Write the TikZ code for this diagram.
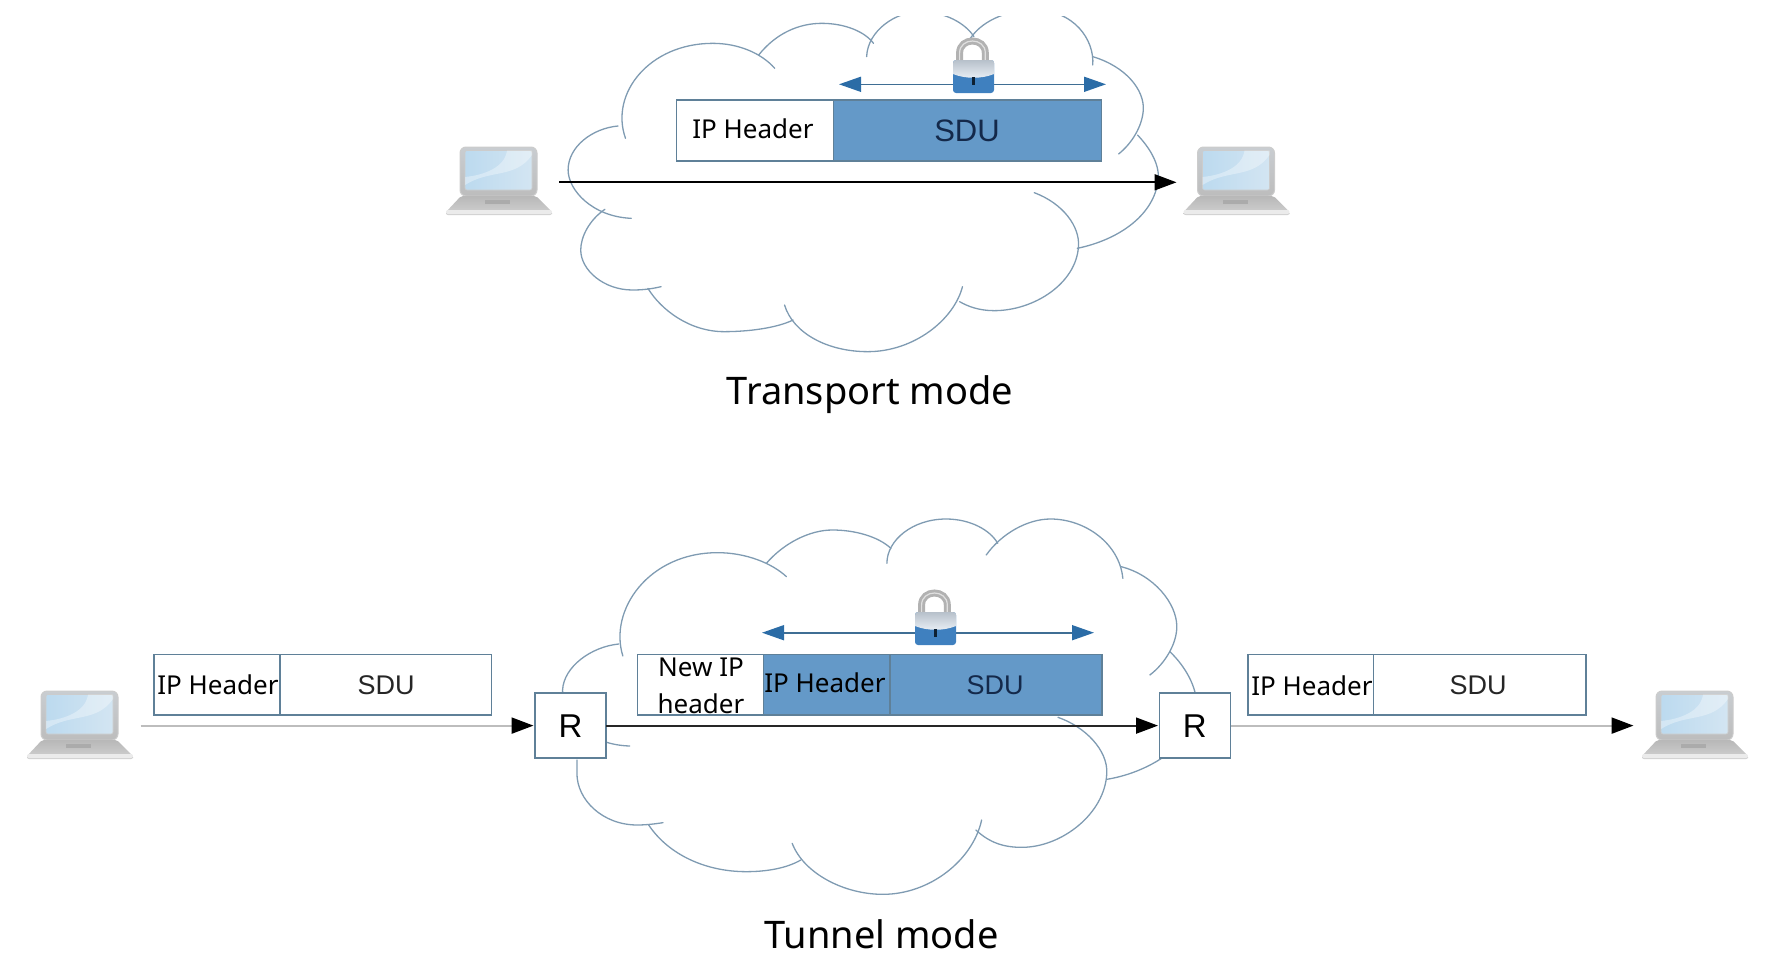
\documentclass[tikz,border=0pt]{standalone}
\usepackage{fontspec}
\setmainfont{Noto Sans}
\newfontfamily\arialfont{Liberation Sans}
\usetikzlibrary{arrows.meta}
\definecolor{cloudcol}{HTML}{7F9BB2}
\definecolor{boxcol}{HTML}{5F8098}
\definecolor{sdublue}{HTML}{6499C8}
\definecolor{sdutext}{HTML}{14294A}
\definecolor{arrowblue}{HTML}{2B6CA6}
\definecolor{shaftblue}{HTML}{3F6E94}
\definecolor{greyline}{HTML}{BDBDBD}
\definecolor{lapframe}{HTML}{C9CDD1}
\definecolor{lapscra}{HTML}{BCDAEF}
\definecolor{lapscrb}{HTML}{D3E5F2}
\definecolor{lockblue}{HTML}{3F80BF}
\definecolor{locklight}{HTML}{D7E2EE}
\tikzset{
  cloudline/.style={draw=cloudcol,line width=1.3pt,line cap=round},
  cell/.style={draw=boxcol,line width=1.4pt,fill=white,inner sep=0pt,outer sep=0pt},
  bluecell/.style={cell,fill=sdublue},
  hdr/.style={font=\fontsize{26}{26}\selectfont,anchor=base,text=black,inner sep=0pt},
  sdutxt/.style={font=\arialfont\fontsize{27}{27}\selectfont,anchor=base,inner sep=0pt,text=black!85},
  bigsdu/.style={font=\arialfont\fontsize{31}{31}\selectfont,anchor=base,inner sep=0pt,text=sdutext},
  title/.style={font=\fontsize{38}{38}\selectfont,anchor=base,inner sep=0pt},
  rbox/.style={draw=boxcol,line width=1.4pt,fill=white,minimum width=71pt,minimum height=65pt,inner sep=0pt,outer sep=0pt},
  rtext/.style={font=\arialfont\fontsize{33}{33}\selectfont,anchor=base,inner sep=0pt},
  flow/.style={line width=1.8pt,shorten >=1.5pt,-{Triangle[length=22pt,width=16pt,black]}},
  encl/.style={draw=shaftblue,line width=1.6pt,{Triangle[length=22pt,width=15pt,arrowblue]}-{Triangle[length=22pt,width=15pt,arrowblue]}},
  laptop/.pic={
    \shade[rounded corners=6pt,top color=lapframe,bottom color=black!26,draw=black!20,line width=1pt] (0,0) rectangle (77,49);
    \shade[rounded corners=2pt,left color=lapscra,right color=lapscrb,draw=black!20,line width=.6pt] (5,3.5) rectangle (72,43);
    \fill[white,opacity=.35] (5,38) .. controls (30,22) and (55,32) .. (72,8) -- (72,3.5) -- (47,3.5) .. controls (45,20) and (25,28) .. (5,30) -- cycle;
    \shade[top color=black!28,bottom color=black!18,rounded corners=2pt] (1,49) -- (76,49) -- (92,65) -- (92,68) -- (-14,68) -- (-14,65) -- cycle;
    \fill[black!8,rounded corners=2pt] (-14,63) rectangle (92,67);
    \fill[black!33] (25,53) rectangle (50,57);
  },
  padlock/.pic={
    \draw[black!30,line width=7pt] (5.6,26) -- (5.6,16) .. controls (5.6,0) and (31.3,0) .. (31.3,16) -- (31.3,26);
    \draw[white,line width=1.2pt,opacity=.6] (5.6,26) -- (5.6,16) .. controls (5.6,0) and (31.3,0) .. (31.3,16) -- (31.3,26);
    \fill[rounded corners=3pt,lockblue] (-1,23) rectangle (40,56);
    \shade[top color=locklight!85!black,bottom color=locklight!50!white] (-1,26) .. controls (-1,24) and (0,23) .. (2,23) -- (37,23) .. controls (39,23) and (40,24) .. (40,26) -- (40,37) .. controls (28,42) and (11,42) .. (-1,37) -- cycle;
    \fill[black!70!arrowblue] (17.5,40) rectangle (20.5,48);
  }
}
\begin{document}
\begin{tikzpicture}[x=1pt,y=-1pt]
\useasboundingbox (0,0) rectangle (1783,956);

% ---------- Transport mode cloud
\begin{scope}
\clip (0,16) rectangle (1783,500);
\begin{scope}[shift={(420,0)},x=0.57405pt,y=0.33333pt,yscale=-1,every path/.style={cloudline}]
\draw (358,415) .. controls (330,280) and (400,130) .. (510,130) .. controls (555,130) and (595,160) .. (618,205);
\draw (590,165) .. controls (620,100) and (660,70) .. (700,70) .. controls (740,70) and (775,95) .. (790,130);
\draw (778,170) .. controls (780,90) and (830,35) .. (870,35) .. controls (915,35) and (950,70) .. (965,110);
\draw (955,125) .. controls (975,65) and (1020,30) .. (1070,30) .. controls (1140,30) and (1175,120) .. (1172,195);
\draw (1172,170) .. controls (1230,200) and (1262,270) .. (1260,330) .. controls (1258,380) and (1240,430) .. (1217,462);
\draw (1250,405) .. controls (1280,460) and (1290,510) .. (1285,550) .. controls (1275,650) and (1215,720) .. (1145,745);
\draw (1070,578) .. controls (1120,610) and (1150,680) .. (1147,740) .. controls (1143,850) and (1070,932) .. (1000,932) .. controls (975,932) and (955,920) .. (940,905);
\draw (945,860) .. controls (930,960) and (860,1055) .. (780,1055) .. controls (710,1055) and (650,1000) .. (635,915);
\draw (650,960) .. controls (620,985) and (570,995) .. (530,995) .. controls (470,995) and (420,930) .. (397,865);
\draw (420,860) .. controls (400,868) and (385,870) .. (370,870) .. controls (320,870) and (280,810) .. (280,750) .. controls (280,710) and (295,660) .. (322,628);
\draw (368,655) .. controls (300,650) and (258,570) .. (258,510) .. controls (258,440) and (300,385) .. (345,378);
\end{scope}
\end{scope}

% ---------- Tunnel mode cloud
\begin{scope}[shift={(0,500)},x=0.57405pt,y=0.33333pt,yscale=-1,every path/.style={cloudline}]
\draw (1085,468) .. controls (1060,330) and (1130,158) .. (1250,158) .. controls (1300,158) and (1345,190) .. (1370,230);
\draw (1335,190) .. controls (1365,130) and (1410,90) .. (1450,90) .. controls (1490,90) and (1530,110) .. (1552,145);
\draw (1545,190) .. controls (1545,120) and (1590,57) .. (1648,57) .. controls (1690,57) and (1725,90) .. (1738,130);
\draw (1718,165) .. controls (1745,100) and (1790,57) .. (1830,57) .. controls (1890,57) and (1950,130) .. (1956,235);
\draw (1953,200) .. controls (2010,225) and (2050,310) .. (2050,380) .. controls (2050,430) and (2030,490) .. (2003,525);
\draw (2038,455) .. controls (2065,500) and (2085,560) .. (2085,620) .. controls (2085,720) and (2010,815) .. (1928,838);
\draw (1843,652) .. controls (1890,680) and (1930,750) .. (1928,820) .. controls (1925,940) and (1850,1042) .. (1780,1042) .. controls (1750,1042) and (1725,1030) .. (1700,990);
\draw (1710,960) .. controls (1695,1080) and (1620,1183) .. (1538,1183) .. controls (1470,1183) and (1400,1120) .. (1380,1030);
\draw (1395,1080) .. controls (1370,1105) and (1335,1115) .. (1300,1115) .. controls (1230,1115) and (1165,1065) .. (1130,975);
\draw (1155,968) .. controls (1140,972) and (1125,975) .. (1110,975) .. controls (1050,975) and (1005,900) .. (1005,820) .. controls (1005,805) and (1005,795) .. (1005,780);
\draw (1097,738) .. controls (1030,735) and (978,660) .. (980,570) .. controls (982,500) and (1030,440) .. (1078,432);
\end{scope}

% ---------- Laptops
\pic at (460,147) {laptop};
\pic at (1197.5,147) {laptop};
\pic at (41,691) {laptop};
\pic at (1656,691) {laptop};

% ---------- Transport mode packet
\node[cell,minimum width=156.7pt,minimum height=61pt] (thdr) at (755,130.5) {};
\node[bluecell,minimum width=268pt,minimum height=61pt] (tsdu) at (967.4,130.5) {};
\node[hdr] (thdrt) at (753,138.5) {IP Header};
\node[bigsdu] (tsdut) at (967,141) {SDU};
\coordinate (tenca) at (839,84.3);
\coordinate (tencb) at (1106,84.3);
\draw[encl] (tenca) -- (tencb);
\pic at (954,37) {padlock};
\coordinate (tsrc) at (559,182.3);
\coordinate (tdst) at (1178,182.3);
\draw[flow] (tsrc) -- (tdst);
\node[title] (ttitle) at (870,404) {Transport mode};

% ---------- Tunnel mode packets
\node[cell,minimum width=126.3pt,minimum height=60.7pt] (lhdr) at (217,684.6) {};
\node[cell,minimum width=211.3pt,minimum height=60.7pt] (lsdu) at (385.7,684.6) {};
\node[hdr] (lhdrt) at (218,694) {IP Header};
\node[sdutxt] (lsdut) at (386,694) {SDU};

\node[cell,minimum width=125.7pt,minimum height=60.7pt] (mnew) at (700.6,684.6) {};
\node[bluecell,minimum width=126.3pt,minimum height=60.7pt] (mhdr) at (826.6,684.6) {};
\node[bluecell,minimum width=212pt,minimum height=60.7pt] (msdu) at (995.8,684.6) {};
\node[hdr] (mnewa) at (701,676.7) {New IP};
\node[hdr] (mnewb) at (701,713) {header};
\node[hdr] (mhdrt) at (825,692) {IP Header};
\node[sdutxt,text=sdutext] (msdut) at (995,694) {SDU};

\node[cell,minimum width=125.2pt,minimum height=60.7pt] (rhdr) at (1310.6,684.6) {};
\node[cell,minimum width=212.8pt,minimum height=60.7pt] (rsdu) at (1479.6,684.6) {};
\node[hdr] (rhdrt) at (1312,695) {IP Header};
\node[sdutxt] (rsdut) at (1478,694) {SDU};

\coordinate (menca) at (762,632.7);
\coordinate (mencb) at (1094,632.7);
\draw[encl] (menca) -- (mencb);
\pic at (916,589) {padlock};

% ---------- Tunnel mode routers and flows
\node[rbox] (rl) at (570.5,725.6) {};
\node[rbox] (rr) at (1195,725.6) {};
\node[rtext] (rlt) at (570.6,737) {R};
\node[rtext] (rrt) at (1194.7,737) {R};
\coordinate (lsrc) at (140.6,725.6);
\coordinate (rdst) at (1635,725.6);
\draw[flow,greyline,line width=2.2pt] (lsrc) -- (rl);
\draw[flow,black!85] (rl) -- (rr);
\draw[flow,greyline,line width=2.2pt] (rr) -- (rdst);
\node[title] (btitle) at (881.5,948.5) {Tunnel mode};
\end{tikzpicture}
\end{document}
